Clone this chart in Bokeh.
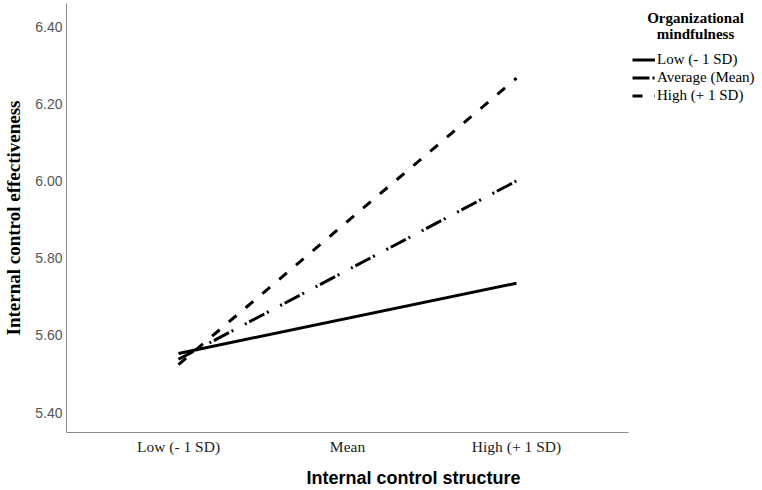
from bokeh.plotting import figure
from bokeh.models import Range1d, FixedTicker, Legend, LegendItem, Label, NumeralTickFormatter
from bokeh.embed import file_html
from bokeh.resources import INLINE

# ---- data ----
x_labels = ["Low (- 1 SD)", "Mean", "High (+ 1 SD)"]
x_ticks = [0, 1, 2]
line_x = [0, 2]                      # Low (- 1 SD) and High (+ 1 SD) of structure
low_md = [5.553, 5.735]              # Organizational mindfulness Low (- 1 SD)
avg_md = [5.538, 6.000]              # Average (Mean)
high_md = [5.524, 6.266]             # High (+ 1 SD)
series_names = ["Low (- 1 SD)", "Average (Mean)", "High (+ 1 SD)"]
y_ticks = [5.40, 5.60, 5.80, 6.00, 6.20, 6.40]
legend_title = ["Organizational", "mindfulness"]

# frame spans to the right edge so the legend (inside the frame) is not clipped;
# the x axis itself is bounded to the plotted region
p = figure(width=760, height=490, output_backend="svg", toolbar_location=None,
           x_range=Range1d(-0.6627, 3.4438), y_range=Range1d(5.3482, 6.4596),
           min_border_left=66, min_border_right=0, min_border_top=3,
           min_border_bottom=58)
p.outline_line_color = None
p.grid.visible = False

# y axis
ya = p.yaxis[0]
ya.ticker = FixedTicker(ticks=y_ticks)
ya.formatter = NumeralTickFormatter(format="0.00")
ya.major_tick_out = 0
ya.major_tick_in = 0
ya.minor_tick_line_color = None
ya.major_tick_line_color = None
ya.axis_line_color = "#8c8c8c"
ya.major_label_standoff = 4
ya.major_label_text_font = "Liberation Sans"
ya.major_label_text_font_size = "14px"
ya.major_label_text_color = "#555555"
ya.axis_label = "Internal control effectiveness"
ya.axis_label_text_font = "Liberation Serif"
ya.axis_label_text_font_style = "bold"
ya.axis_label_text_font_size = "19px"
ya.axis_label_text_color = "black"
ya.axis_label_text_line_height = 1.0
ya.axis_label_standoff = 8

# x axis
xa = p.xaxis[0]
xa.bounds = (-0.6627, 2.6627)
xa.ticker = FixedTicker(ticks=x_ticks)
xa.major_label_overrides = {t: lab for t, lab in zip(x_ticks, x_labels)}
xa.major_tick_out = 0
xa.major_tick_in = 0
xa.minor_tick_line_color = None
xa.major_tick_line_color = None
xa.axis_line_color = "#8c8c8c"
xa.major_label_standoff = 5
xa.major_label_text_font = "Liberation Serif"
xa.major_label_text_font_size = "15.5px"
xa.major_label_text_color = "#222222"
xa.axis_label = "Internal control structure"
xa.axis_label_text_font = "Liberation Sans"
xa.axis_label_text_font_style = "bold"
xa.axis_label_text_font_size = "18px"
xa.axis_label_text_color = "black"
xa.axis_label_standoff = 10

r_low = p.line(line_x, low_md, line_width=3, line_color="black")
r_avg = p.line(line_x, avg_md, line_width=3, line_color="black",
               line_dash="17 3 2 13 2 3")
r_high = p.line(line_x, high_md, line_width=3, line_color="black",
                line_dash="10 12")

legend = Legend(items=[LegendItem(label=series_names[0], renderers=[r_low]),
                       LegendItem(label=series_names[1], renderers=[r_avg]),
                       LegendItem(label=series_names[2], renderers=[r_high])],
                location=(566, 328), padding=0, margin=0, spacing=1,
                glyph_width=23, glyph_height=17, label_height=17,
                label_standoff=2, border_line_color=None,
                background_fill_alpha=0,
                label_text_font="Liberation Serif",
                label_text_font_size="15px", label_text_color="black")
p.add_layout(legend)

for i, t in enumerate(legend_title):
    p.add_layout(Label(x=629, y=415 - 16 * i, x_units="screen", y_units="screen",
                       text=t, text_align="center", text_baseline="middle",
                       text_font="Liberation Serif", text_font_style="bold",
                       text_font_size="15px", text_color="black"))

open("out.html", "w").write(file_html(p, INLINE))
